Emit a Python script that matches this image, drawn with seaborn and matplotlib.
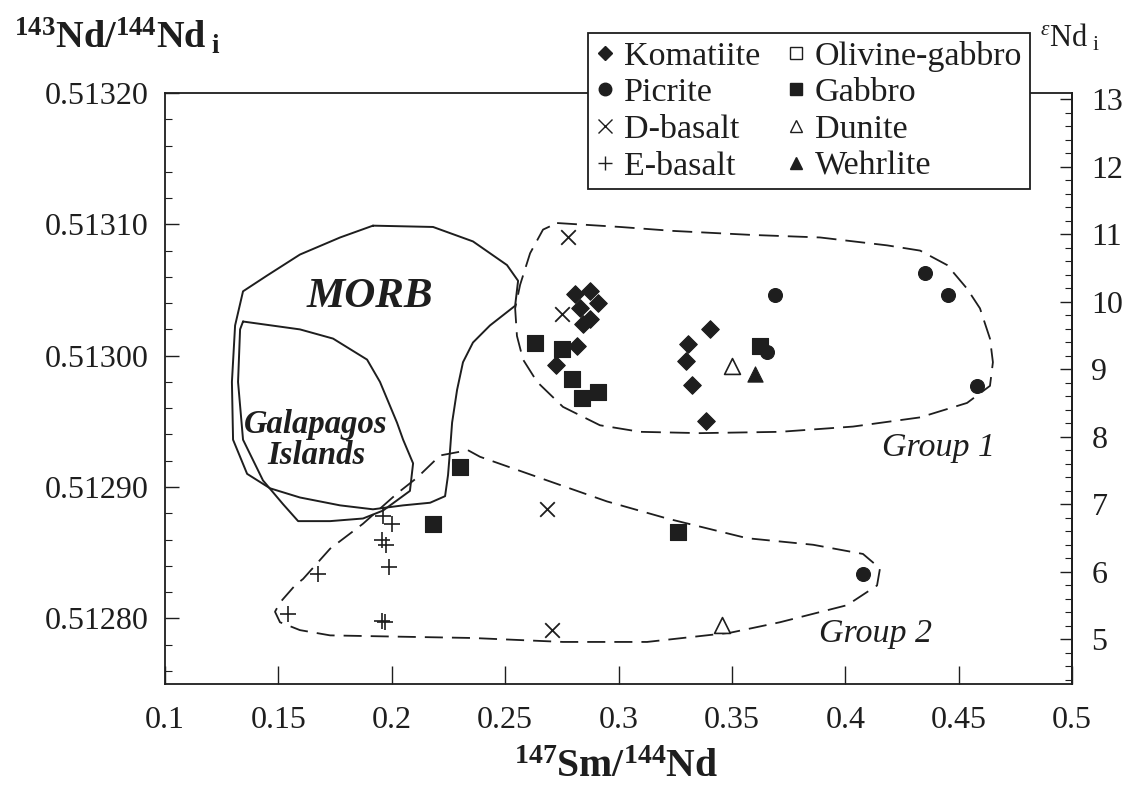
import numpy as np
import pandas as pd
import matplotlib
matplotlib.use('Agg')
import matplotlib.pyplot as plt
import seaborn as sns
from matplotlib.lines import Line2D
from matplotlib.ticker import MultipleLocator

#-----------------------------------------
# data
#-----------------------------------------
komatiite_x = [0.2808, 0.2874, 0.2910, 0.2830, 0.2874, 0.2843, 0.2817, 0.2724, 0.3404, 0.3306, 0.3298, 0.3324, 0.3386]
komatiite_y = [0.513047, 0.513049, 0.513040, 0.513036, 0.513028, 0.513024, 0.513007, 0.512993, 0.513020, 0.513009, 0.512996, 0.512978, 0.512950]
picrite_x = [0.3690, 0.3655, 0.4352, 0.4453, 0.4581, 0.4078]
picrite_y = [0.513046, 0.513003, 0.513063, 0.513046, 0.512977, 0.512834]
dbasalt_x = [0.2777, 0.2751, 0.2685, 0.2707]
dbasalt_y = [0.513090, 0.513032, 0.512883, 0.512791]
ebasalt_x = [0.1961, 0.2001, 0.1957, 0.1975, 0.1988, 0.1675, 0.1542, 0.1957, 0.1970]
ebasalt_y = [0.512878, 0.512872, 0.512860, 0.512856, 0.512839, 0.512834, 0.512803, 0.512798, 0.512797]
gabbro_x = [0.2632, 0.2751, 0.2795, 0.2839, 0.2910, 0.3624, 0.2301, 0.2182, 0.3262]
gabbro_y = [0.513010, 0.513005, 0.512982, 0.512968, 0.512972, 0.513007, 0.512915, 0.512872, 0.512866]
dunite_x = [0.3501, 0.3456]
dunite_y = [0.512992, 0.512795]
wehrlite_x = [0.3602]
wehrlite_y = [0.512986]
olgabbro_x = []
olgabbro_y = []

# field outlines
morb_x = [0.1917, 0.2182, 0.2358, 0.2508, 0.2557, 0.2544, 0.2433, 0.2358, 0.2314, 0.2288, 0.2266, 0.2257,
          0.2248, 0.2235, 0.2169, 0.2050, 0.1917, 0.1772, 0.1595, 0.1463, 0.1362, 0.1300, 0.1295, 0.1309,
          0.1344, 0.1450, 0.1595, 0.1772, 0.1917]
morb_y = [0.513099, 0.513098, 0.513087, 0.513069, 0.513057, 0.513038, 0.513023, 0.513010, 0.512995, 0.512974,
          0.512949, 0.512928, 0.512909, 0.512893, 0.512888, 0.512886, 0.512883, 0.512886, 0.512892, 0.512899,
          0.512910, 0.512936, 0.512980, 0.513023, 0.513049, 0.513061, 0.513077, 0.513090, 0.513099]
galap_x = [0.1344, 0.1595, 0.1741, 0.1891, 0.1948, 0.2023, 0.2050, 0.2094, 0.2080, 0.1961, 0.1873, 0.1728,
           0.1587, 0.1520, 0.1432, 0.1344, 0.1322, 0.1331, 0.1344]
galap_y = [0.513026, 0.513020, 0.513013, 0.512997, 0.512980, 0.512949, 0.512936, 0.512918, 0.512897, 0.512882,
           0.512876, 0.512874, 0.512874, 0.512887, 0.512905, 0.512936, 0.512980, 0.513020, 0.513026]
group1_x = [0.2729, 0.3007, 0.3240, 0.3580, 0.3889, 0.4184, 0.4330, 0.4449, 0.4537, 0.4594, 0.4638, 0.4651,
            0.4638, 0.4537, 0.4330, 0.4034, 0.3712, 0.3359, 0.3095, 0.2918, 0.2755, 0.2641, 0.2579, 0.2552,
            0.2544, 0.2566, 0.2610, 0.2667, 0.2729]
group1_y = [0.513101, 0.513098, 0.513095, 0.513092, 0.513090, 0.513084, 0.513080, 0.513069, 0.513051, 0.513036,
            0.513013, 0.512995, 0.512977, 0.512964, 0.512953, 0.512946, 0.512942, 0.512941, 0.512942, 0.512947,
            0.512961, 0.512980, 0.512997, 0.513015, 0.513036, 0.513054, 0.513078, 0.513096, 0.513101]
group2_x = [0.2336, 0.2389, 0.2685, 0.2949, 0.3214, 0.3567, 0.3858, 0.4078, 0.4153, 0.4140, 0.4008, 0.3712,
            0.3492, 0.3126, 0.2755, 0.2358, 0.2036, 0.1728, 0.1595, 0.1507, 0.1485, 0.1507, 0.1573, 0.1609,
            0.1728, 0.1873, 0.2023, 0.2111, 0.2213, 0.2336]
group2_y = [0.512928, 0.512923, 0.512905, 0.512889, 0.512876, 0.512861, 0.512856, 0.512849, 0.512838, 0.512825,
            0.512810, 0.512797, 0.512789, 0.512782, 0.512782, 0.512785, 0.512786, 0.512787, 0.512791, 0.512797,
            0.512805, 0.512812, 0.512825, 0.512830, 0.512853, 0.512872, 0.512895, 0.512907, 0.512924, 0.512928]

x_ticks = [0.1, 0.15, 0.2, 0.25, 0.3, 0.35, 0.4, 0.45, 0.5]
x_ticklabels = ['0.1', '0.15', '0.2', '0.25', '0.3', '0.35', '0.4', '0.45', '0.5']
y_ticks = [0.5128, 0.5129, 0.5130, 0.5131, 0.5132]
y_ticklabels = ['0.51280', '0.51290', '0.51300', '0.51310', '0.51320']
eps_ticks = [5, 6, 7, 8, 9, 10, 11, 12, 13]

#-----------------------------------------
# style
#-----------------------------------------
sns.set_style('ticks')
plt.rcParams['font.family'] = ['Liberation Serif', 'DejaVu Serif']
plt.rcParams['mathtext.fontset'] = 'custom'
plt.rcParams['mathtext.rm'] = 'Liberation Serif'
plt.rcParams['mathtext.bf'] = 'Liberation Serif:bold'
plt.rcParams['mathtext.it'] = 'Liberation Serif:italic'
ink = '#1e1e1e'

frames = []
for name, xs, ys in [('Komatiite', komatiite_x, komatiite_y), ('Picrite', picrite_x, picrite_y),
                     ('D-basalt', dbasalt_x, dbasalt_y), ('E-basalt', ebasalt_x, ebasalt_y),
                     ('Gabbro', gabbro_x, gabbro_y), ('Dunite', dunite_x, dunite_y),
                     ('Wehrlite', wehrlite_x, wehrlite_y), ('Olivine-gabbro', olgabbro_x, olgabbro_y)]:
    frames.append(pd.DataFrame({'rock': name, 'sm_nd': xs, 'nd_nd': ys}))
df = pd.concat(frames, ignore_index=True)

# marker, size, facecolor, linewidth
styles = {
    'Komatiite': ('D', 80, ink, 0.8),
    'Picrite': ('o', 100, ink, 0.8),
    'D-basalt': ('x', 110, ink, 1.3),
    'E-basalt': ('+', 130, ink, 1.2),
    'Gabbro': ('s', 125, ink, 0.8),
    'Dunite': ('^', 130, 'white', 1.2),
    'Wehrlite': ('^', 120, ink, 0.8),
    'Olivine-gabbro': ('s', 100, 'white', 1.0),
}

fig = plt.figure(figsize=(11.28, 7.93), dpi=100)
ax = fig.add_axes([0.1463, 0.1375, 0.8041, 0.7452])

# envelopes
ax.plot(morb_x, morb_y, color=ink, lw=1.4, zorder=1)
ax.plot(galap_x, galap_y, color=ink, lw=1.4, zorder=1)
ax.plot(group1_x, group1_y, color=ink, lw=1.3, ls=(0, (11, 5)), zorder=1)
ax.plot(group2_x, group2_y, color=ink, lw=1.3, ls=(0, (10, 5)), zorder=1)

for rock, (mk, sz, fc, lw) in styles.items():
    sub = df[df['rock'] == rock]
    if len(sub) == 0:
        continue
    if mk in ('x', '+'):
        sns.scatterplot(data=sub, x='sm_nd', y='nd_nd', marker=mk, s=sz, color=ink,
                        linewidth=lw, ax=ax, legend=False, zorder=3)
    else:
        sns.scatterplot(data=sub, x='sm_nd', y='nd_nd', marker=mk, s=sz, facecolor=fc,
                        edgecolor=ink, linewidth=lw, ax=ax, legend=False, zorder=3)

ax.set_xlim(0.1, 0.5)
ax.set_ylim(0.51275, 0.51320)
ax.set_xticks(x_ticks, x_ticklabels)
ax.set_yticks(y_ticks, y_ticklabels)
ax.yaxis.set_minor_locator(MultipleLocator(0.00002))
ax.set_xlabel('')
ax.set_ylabel('')
ax.tick_params(axis='both', which='major', direction='in', length=10, width=1.0,
               labelsize=23, colors=ink, pad=12)
ax.tick_params(axis='y', which='minor', direction='in', length=5, width=0.8, colors=ink)
ax.tick_params(axis='x', which='major', length=13, pad=16)
for sp in ax.spines.values():
    sp.set_color(ink)
    sp.set_linewidth(1.3)

# epsilon Nd on the right
def to_eps(r):
    return 5 + (r - 0.512784) * 19460.0

def to_ratio(e):
    return 0.512784 + (e - 5) / 19460.0

sec = ax.secondary_yaxis('right', functions=(to_eps, to_ratio))
sec.set_yticks(eps_ticks, [str(t) for t in eps_ticks])
sec.yaxis.set_minor_locator(MultipleLocator(0.2))
sec.tick_params(which='major', direction='in', length=9, width=1.0, labelsize=23, colors=ink, pad=14)
sec.tick_params(which='minor', direction='in', length=5, width=0.8, colors=ink)
sec.spines['right'].set_color(ink)
sec.spines['right'].set_linewidth(1.3)

# field labels
ax.text(0.1904, 0.513045, 'MORB', fontsize=31, fontweight='bold', style='italic',
        ha='center', va='center', color=ink)
ax.text(0.1666, 0.512936, 'Galapagos\nIslands', fontsize=23.5, fontweight='bold', style='italic',
        ha='center', va='center', color=ink, linespacing=1.0)
ax.text(0.4409, 0.512930, 'Group 1', fontsize=24.5, style='italic', ha='center', va='center', color=ink)
ax.text(0.4131, 0.512788, 'Group 2', fontsize=24.5, style='italic', ha='center', va='center', color=ink)

# axis titles
fig.text(0.012, 0.955, r'$\mathbf{^{143}Nd/^{144}Nd_{\ i}}$', fontsize=27.5, ha='left', va='center', color=ink)
fig.text(0.922, 0.952, r'$^{\varepsilon}$Nd$_{\ \mathrm{i}}$', fontsize=22, ha='left', va='center', color=ink)
fig.text(0.546, 0.032, r'$\mathbf{^{147}Sm/^{144}Nd}$', fontsize=28.5, ha='center', va='center', color=ink)

# legend
order = ['Komatiite', 'Picrite', 'D-basalt', 'E-basalt', 'Olivine-gabbro', 'Gabbro', 'Dunite', 'Wehrlite']
handles = []
for rock in order:
    mk, sz, fc, lw = styles[rock]
    if mk in ('x', '+'):
        h = Line2D([], [], ls='none', marker=mk, markersize=10, color=ink, markeredgewidth=1.0)
    else:
        h = Line2D([], [], ls='none', marker=mk, markersize=9 if mk != 'D' else 7,
                   markerfacecolor=fc, markeredgecolor=ink, markeredgewidth=1.0)
    handles.append(h)
leg = fig.legend(handles, order, loc='upper left', bbox_to_anchor=(0.521, 0.958), ncol=2,
                 fontsize=24.5, frameon=True, fancybox=False, framealpha=1, edgecolor=ink,
                 handlelength=0.6, handletextpad=0.25, columnspacing=0.75, labelspacing=0.17,
                 borderpad=0.22, borderaxespad=0)
leg.get_frame().set_linewidth(1.3)
for t in leg.get_texts():
    t.set_color(ink)

plt.savefig('out.png', dpi=100)
